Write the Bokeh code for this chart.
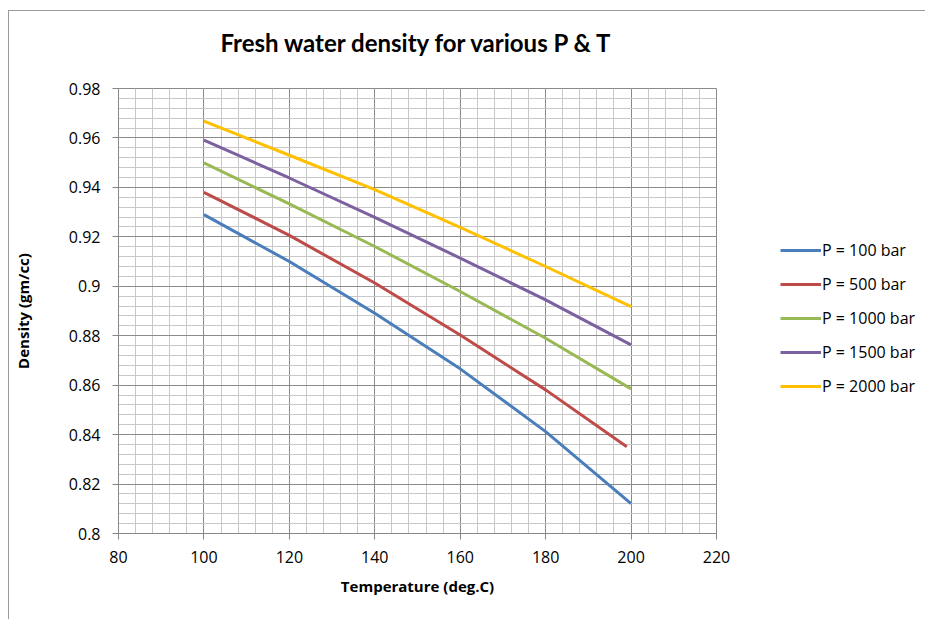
from bokeh.plotting import figure
from bokeh.models import (Legend, LegendItem, SingleIntervalTicker,
                          CustomJSTickFormatter, Range1d, Title)
from bokeh.embed import file_html
from bokeh.resources import INLINE

# ---- data ----
temperature = [100, 120, 140, 160, 180, 200]
temperature_p500 = [100, 120, 140, 160, 180, 199]
p100 = [0.9290, 0.9100, 0.8891, 0.8666, 0.8412, 0.8121]
p500 = [0.9380, 0.9206, 0.9013, 0.8803, 0.8581, 0.8351]
p1000 = [0.9499, 0.9333, 0.9161, 0.8979, 0.8790, 0.8585]
p1500 = [0.9591, 0.9438, 0.9279, 0.9114, 0.8945, 0.8763]
p2000 = [0.9668, 0.9530, 0.9391, 0.9238, 0.9080, 0.8918]
series_labels = ["P = 100 bar", "P = 500 bar", "P = 1000 bar",
                 "P = 1500 bar", "P = 2000 bar"]
series_colors = ["#4a7ebb", "#be4b48", "#98b954", "#7d60a0", "#ffc000"]
chart_title = "Fresh water density for various P & T"

TITLE_FONT = "Lato"
FONT = "Open Sans"

p = figure(frame_width=598, frame_height=445, output_backend="svg",
           toolbar_location=None, title=None,
           x_range=Range1d(80, 220), y_range=Range1d(0.8, 0.98),
           min_border_left=108, min_border_right=205,
           min_border_top=77, min_border_bottom=86)
p.styles = {"margin-left": "8px", "margin-top": "10px",
            "border-top": "1px solid #9a9a9a", "border-left": "1px solid #9a9a9a"}

# spacer (closest to the frame) then the real title above it
spacer = Title(text=" ", text_font_size="1px", standoff=27)
p.add_layout(spacer, "above")
main_title = Title(text=chart_title, align="center", text_font=TITLE_FONT,
                   text_font_size="24px", text_font_style="bold",
                   text_color="#000000", standoff=4)
p.add_layout(main_title, "above")

p.xaxis.ticker = SingleIntervalTicker(interval=20, num_minor_ticks=5)
p.yaxis.ticker = SingleIntervalTicker(interval=0.02, num_minor_ticks=5)
p.yaxis.formatter = CustomJSTickFormatter(
    code="return String(parseFloat(tick.toFixed(3)));")

for ax in (p.xaxis, p.yaxis):
    ax.axis_line_color = "#878787"
    ax.major_tick_line_color = "#878787"
    ax.major_tick_out = 6
    ax.major_tick_in = 0
    ax.minor_tick_line_color = None
    ax.major_label_text_font = FONT
    ax.major_label_text_font_size = "16px"
    ax.major_label_text_color = "#000000"
    ax.axis_label_text_font = FONT
    ax.axis_label_text_font_size = "15px"
    ax.axis_label_text_font_style = "bold"
    ax.axis_label_text_color = "#000000"

p.xaxis.axis_label = "Temperature (deg.C)"
p.yaxis.axis_label = "Density (gm/cc)"
p.xaxis.major_label_standoff = 11
p.yaxis.major_label_standoff = 12
p.xaxis.axis_label_standoff = 10
p.yaxis.axis_label_standoff = 33

for g in (p.xgrid, p.ygrid):
    g.grid_line_color = "#8a8a8a"
    g.grid_line_width = 1
    g.minor_grid_line_color = "#c8c8c8"
    g.minor_grid_line_width = 1

p.outline_line_color = "#8a8a8a"
p.background_fill_color = "white"
p.border_fill_color = "white"

xs = [temperature, temperature_p500, temperature, temperature, temperature]
ys = [p100, p500, p1000, p1500, p2000]
items = []
for x, y, lab, col in zip(xs, ys, series_labels, series_colors):
    r = p.line(x, y, line_color=col, line_width=3)
    items.append(LegendItem(label=lab, renderers=[r]))

legend = Legend(items=items, location=(64, 136))
legend.margin = 0
legend.padding = 0
legend.border_line_color = None
legend.background_fill_alpha = 0
legend.glyph_width = 41
legend.glyph_height = 20
legend.label_height = 20
legend.spacing = 12
legend.label_standoff = 1
legend.label_text_font = FONT
legend.label_text_font_size = "16px"
legend.label_text_color = "#000000"
p.add_layout(legend, "right")

open("out.html", "w").write(file_html(p, INLINE))
